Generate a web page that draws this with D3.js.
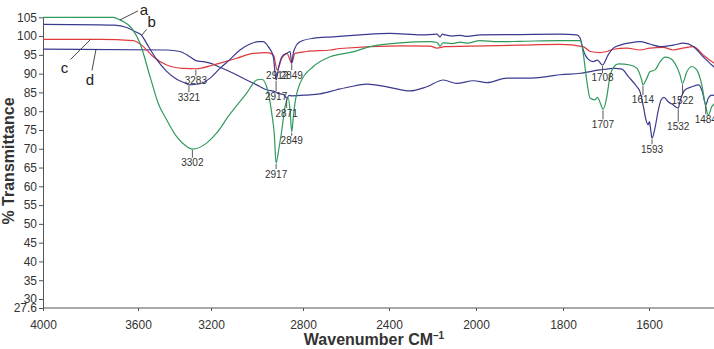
<!DOCTYPE html>
<html lang="en">
<head>
<meta charset="UTF-8">
<title>FTIR spectra</title>
<script src="https://cdn.jsdelivr.net/npm/d3@7"></script>
<style>
  body { margin: 0; background: #fff; }
  svg { display: block; font-family: "Liberation Sans", Arial, sans-serif; }
  .axis path, .axis line { stroke: #555; }
  .axis text { font-size: 12px; fill: #333; }
  .peak { font-size: 10px; fill: #333; text-anchor: middle; }
  .title { font-size: 16px; font-weight: bold; fill: #333; }
  .curve-name { font-size: 15px; fill: #222; }
</style>
</head>
<body>
<div id="chart"></div>
<script>
// axis ticks
const xTicks = [4000, 3600, 3200, 2800, 2400, 2000, 1800, 1600];
const yTicks = [27.6, 30, 35, 40, 45, 50, 55, 60, 65, 70, 75, 80, 85, 90, 95, 100, 105];

// spectrum a (green)
const aWave = [4000, 3705, 3676, 3627, 3589, 3534, 3490, 3443, 3388, 3333, 3302, 3224, 3175, 3125, 3045, 3001, 2979, 2958, 2936, 2925, 2917, 2905, 2892, 2878, 2864, 2856, 2849, 2842, 2835, 2813, 2752, 2674, 2567, 2488, 2349, 2211, 2179, 2165, 2152, 2110, 2073, 2040, 1991, 1950, 1899, 1807, 1760, 1753, 1745, 1737, 1726, 1720, 1712, 1707, 1698, 1691, 1681, 1671, 1644, 1628, 1617, 1614, 1605, 1598, 1586, 1574, 1563, 1551, 1540, 1528, 1522, 1512, 1500, 1489, 1478, 1468, 1462, 1454, 1440];
const aT = [105, 105, 104.3, 102.1, 98.1, 89.2, 82.2, 77.7, 73.2, 70.6, 69.9, 71.5, 74.2, 78.6, 84.8, 88.3, 88.5, 86.5, 79.5, 74, 66.2, 70, 75, 81.2, 83.5, 80, 74.5, 78.5, 82.1, 87.4, 91.9, 94.5, 95.8, 97.2, 98.2, 98.5, 98.3, 97.3, 98.2, 98.0, 98.4, 98.1, 98.8, 98.5, 98.6, 98.8, 98.8, 95.4, 88.3, 83.5, 83, 83.7, 81.8, 80.5, 83.9, 89.2, 91.9, 92.6, 92.3, 91.4, 88.3, 87, 88.8, 90.5, 91, 93.2, 94.4, 94.1, 92.8, 89.7, 87.4, 90.5, 91.9, 91, 87.4, 81.2, 79, 81.2, 82.5];

// spectrum b (dark blue, upper)
const bWave = [4000, 3760, 3700, 3648, 3606, 3580, 3552, 3498, 3443, 3388, 3333, 3321, 3260, 3205, 3161, 3117, 3074, 3030, 2994, 2973, 2951, 2929, 2917, 2905, 2892, 2870, 2856, 2849, 2842, 2835, 2813, 2753, 2660, 2535, 2395, 2250, 2180, 2165, 2155, 2143, 2110, 2073, 2040, 1991, 1899, 1807, 1768, 1760, 1753, 1741, 1730, 1720, 1708, 1695, 1683, 1667, 1644, 1621, 1598, 1574, 1543, 1520, 1497, 1474, 1454, 1440];
const bT = [103.1, 103, 102.9, 102.3, 101, 100.2, 98, 93.8, 90.6, 88.5, 87.3, 87, 87.3, 88.8, 91.4, 93.8, 96.3, 97.9, 98.5, 98.5, 97.2, 94.5, 88.3, 92, 94.5, 95.4, 95.9, 92.8, 95.5, 96.8, 98.5, 99.4, 99.8, 100.3, 100.7, 100.3, 100.5, 99.8, 100.5, 100.3, 100.0, 100.2, 99.9, 100.3, 100.4, 100.5, 100.3, 99.4, 96.3, 93.8, 93.2, 93.6, 92.3, 95, 96.8, 97.6, 98.2, 98.5, 97.9, 97.2, 97.6, 98.1, 97.2, 94.5, 92.3, 91];

// spectrum c (red)
const cWave = [4000, 3760, 3620, 3571, 3516, 3443, 3352, 3283, 3190, 3161, 3088, 3016, 2958, 2929, 2912, 2892, 2870, 2849, 2835, 2783, 2674, 2628, 2349, 2211, 2179, 2143, 2028, 1899, 1807, 1753, 1737, 1714, 1698, 1683, 1652, 1621, 1598, 1567, 1544, 1521, 1497, 1474, 1454, 1440];
const cT = [99.1, 99.1, 98.8, 97.2, 94.5, 92.3, 91.4, 91.3, 92.3, 92.8, 94.1, 95.4, 95.6, 95, 91, 94.1, 95.4, 92.8, 95.4, 95.9, 96.3, 96.7, 97.4, 97.3, 96.8, 97.2, 97.3, 97.6, 97.8, 97.2, 95.9, 95.6, 95.9, 96.5, 96.8, 96.3, 96.8, 97, 96.3, 96.8, 97.2, 95, 93.2, 92.3];

// spectrum d (dark blue, lower)
const dWave = [4000, 3443, 3370, 3315, 3279, 3242, 3205, 3161, 3103, 3045, 3001, 2958, 2922, 2900, 2885, 2871, 2860, 2849, 2783, 2721, 2643, 2581, 2503, 2410, 2303, 2227, 2150, 2089, 2012, 1975, 1929, 1883, 1837, 1807, 1760, 1714, 1679, 1663, 1648, 1628, 1621, 1613, 1607, 1602, 1599, 1596, 1593, 1587, 1579, 1572, 1565, 1556, 1544, 1532, 1528, 1516, 1500, 1484, 1476, 1468, 1462, 1454, 1440];
const dT = [96.5, 96.3, 95.9, 94.5, 93.4, 93.2, 92.8, 91.7, 90.1, 88.3, 87, 85.7, 85.2, 84.6, 84.5, 83.5, 84.2, 84.1, 84.3, 84.6, 85.7, 86.5, 87.2, 86.5, 85.4, 86.5, 88.3, 87.4, 88.1, 87.6, 88.8, 88.8, 89.2, 89.7, 90.1, 91, 91.4, 91.2, 89.2, 86.5, 85.2, 81.2, 77.7, 76.4, 77.2, 75, 72.8, 75, 79.9, 83, 83.7, 82.6, 81.7, 80.8, 82.6, 85.7, 86.5, 87, 85.2, 81.7, 83.5, 84.3, 84];

// labelled peaks
const peakSeries = ['a', 'a', 'a', 'a', 'a', 'a', 'b', 'b', 'b', 'c', 'c', 'c', 'd', 'd', 'd', 'd'];
const peakWave = [3302, 2917, 2849, 1707, 1614, 1522, 3321, 2917, 1708, 3283, 2912, 2849, 2871, 1593, 1532, 1468];
const peakText = ['3302', '2917', '2849', '1707', '1614', '1522', '3321', '2917', '1708', '3283', '2912', '2849', '2871', '1593', '1532', '1484'];
// how far each label drops below its peak (px)
const peakDrop = [7.5, 5, 3, 9, 9, 11, 6.5, 10, 7, 6, 0, 6, 9, 5, 12.5, 8.5];

const series = {
  a: { wave: aWave, t: aT, color: '#2f9a5c' },
  b: { wave: bWave, t: bT, color: '#3a3a8e' },
  c: { wave: cWave, t: cT, color: '#e03a3c' },
  d: { wave: dWave, t: dT, color: '#3a3a8e' }
};

const W = 714, H = 349;
const xStops = [43, 138, 211, 303, 389, 476, 563, 649];

const svg = d3.select('#chart').append('svg')
  .attr('width', W)
  .attr('height', H);

const x = d3.scaleLinear().domain(xTicks).range(xStops);
const y = d3.scaleLinear().domain([27.6, 105]).range([308, 17.3]);

// axes
svg.append('g')
  .attr('class', 'axis')
  .attr('transform', 'translate(43,0)')
  .call(d3.axisLeft(y).tickValues(yTicks).tickSize(4).tickPadding(2).tickSizeOuter(0).tickFormat(d => d));

const xAxis = svg.append('g')
  .attr('class', 'axis')
  .attr('transform', 'translate(0,308)')
  .call(d3.axisBottom(x).tickValues(xTicks).tickSize(3).tickPadding(9.5).tickSizeOuter(0).tickFormat(d => d));
xAxis.select('.domain').remove();
xAxis.append('line')
  .attr('x1', x(4000)).attr('x2', W)
  .attr('stroke', '#555');

// spectra
const line = d3.line()
  .x(d => x(d[0]))
  .y(d => y(d[1]))
  .curve(d3.curveMonotoneX);

for (const key of ['d', 'c', 'b', 'a']) {
  const s = series[key];
  svg.append('path')
    .datum(d3.zip(s.wave, s.t))
    .attr('fill', 'none')
    .attr('stroke', s.color)
    .attr('stroke-width', 1.2)
    .attr('d', line);
}

// peak labels
peakWave.forEach((wn, i) => {
  const s = series[peakSeries[i]];
  const v = s.t[s.wave.indexOf(wn)];
  const px = x(wn), py = y(v) + 1;
  const drop = peakDrop[i];
  if (drop > 0) {
    svg.append('line')
      .attr('x1', px).attr('x2', px)
      .attr('y1', py).attr('y2', py + drop)
      .attr('stroke', '#444')
      .attr('stroke-width', 0.9);
  }
  svg.append('text')
    .attr('class', 'peak')
    .attr('x', px)
    .attr('y', py + drop + 8.5)
    .text(peakText[i]);
});

// curve names with leader lines
const nameKeys = ['a', 'b', 'c', 'd'];
const nameWave = [3676, 3580, 3800, 3777];
const nameOffset = [[18, -9, 24, -9], [5, -6, 10, -12.5], [-20, 20, -26, 30], [-4, 21, -6, 31]];
nameKeys.forEach((k, i) => {
  const s = series[k];
  const wn = nameWave[i];
  // value on the curve at that wavenumber
  const j = Math.max(1, Math.min(s.wave.length - 1, s.wave.findIndex(v => v <= wn)));
  const w0 = s.wave[j - 1], w1 = s.wave[j];
  const t = s.t[j - 1] + (s.t[j] - s.t[j - 1]) * (w0 - wn) / (w0 - w1);
  const px = x(wn), py = y(t);
  const o = nameOffset[i];
  svg.append('line')
    .attr('x1', px).attr('y1', py)
    .attr('x2', px + o[0]).attr('y2', py + o[1])
    .attr('stroke', '#333')
    .attr('stroke-width', 0.9);
  svg.append('text')
    .attr('class', 'curve-name')
    .attr('x', px + o[2])
    .attr('y', py + o[3] + 4)
    .attr('text-anchor', 'middle')
    .text(k);
});

// titles
const xTitle = svg.append('text')
  .attr('class', 'title')
  .attr('x', 374)
  .attr('y', 345)
  .attr('text-anchor', 'middle')
  .text('Wavenumber CM');
xTitle.append('tspan')
  .attr('dy', -6)
  .style('font-size', '10px')
  .text('\u20131');

svg.append('text')
  .attr('class', 'title')
  .attr('transform', 'rotate(-90)')
  .attr('x', -161)
  .attr('y', 14)
  .attr('text-anchor', 'middle')
  .text('% Transmittance');
</script>
</body>
</html>
